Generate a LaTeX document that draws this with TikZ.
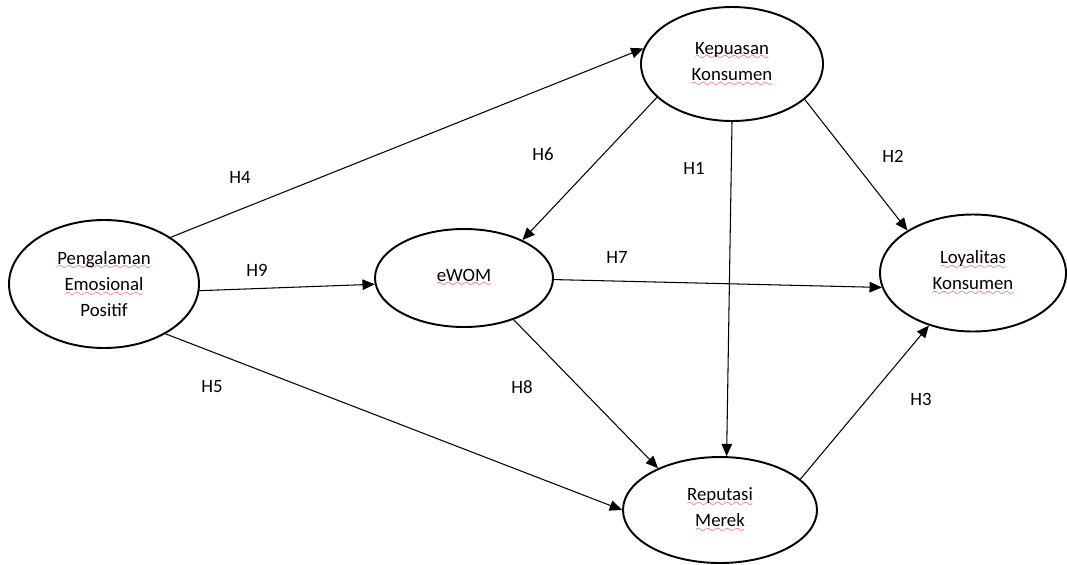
\documentclass[tikz,border=0pt]{standalone}
\usepackage{fontspec}
\setmainfont{Carlito}
\usepackage{tikz}
\usetikzlibrary{shapes.geometric,arrows.meta}
\definecolor{spellred}{RGB}{232,62,62}
\font\wavefont=lasy6
\newcommand{\spellwave}[1]{\setbox0\hbox{#1}\leavevmode\rlap{\lower3.2pt\hbox to\wd0{\color{spellred}\xleaders\hbox{\wavefont\char58}\hfil}}\box0}

\begin{document}
\begin{tikzpicture}[
    font=\fontsize{10.7pt}{15pt}\selectfont,
    construct/.style={ellipse,draw,line width=1.1pt,align=center,inner sep=2pt}]
\useasboundingbox (0,0) rectangle (21.34,-11.28);

\begin{scope}[every node/.style={construct}]
    \node[minimum width=3.8cm,minimum height=2.56cm] (P) at (2.08,-5.68) {\spellwave{Pengalaman}\\\spellwave{Emosional}\\Positif};
    \node[minimum width=3.64cm,minimum height=2.28cm] (K) at (14.64,-1.28) {\spellwave{Kepuasan}\\\spellwave{Konsumen}};
    \node[minimum width=3.56cm,minimum height=1.96cm] (E) at (9.28,-5.56) {\spellwave{eWOM}};
    \node[minimum width=3.72cm,minimum height=2.34cm] (L) at (19.46,-5.46) {\spellwave{Loyalitas}\\\spellwave{Konsumen}};
    \node[minimum width=3.88cm,minimum height=2.12cm] (R) at (14.4,-10.2) {\spellwave{Reputasi}\\\spellwave{Merek}};
\end{scope}

\begin{scope}[every edge/.style={draw=black,line width=0.6pt,-{Triangle[length=7pt,width=6pt]}}]
    \path (P.35) edge (K.170);
    \path (P.-4) edge (E.184);
    \path (P.-39) edge (R.180);
    \path (K.204) edge (E.33);
    \path (K.270) edge (R.83);
    \path (K.334) edge (L.147);
    \path (E.-1) edge (L.189);
    \path (E.-40) edge (R.146);
    \path (R.21) edge (L.230);
\end{scope}

\begin{scope}[every node/.style={inner sep=1pt}]
    \node (h4) at (4.8,-3.54) {H4};
    \node (h9) at (5.14,-5.4) {H9};
    \node (h5) at (4.24,-7.74) {H5};
    \node (h6) at (10.86,-3.08) {H6};
    \node (h1) at (13.88,-3.36) {H1};
    \node (h2) at (17.86,-3.12) {H2};
    \node (h7) at (12.34,-5.14) {H7};
    \node (h8) at (10.44,-7.74) {H8};
    \node (h3) at (18.42,-7.98) {H3};
\end{scope}
\end{tikzpicture}
\end{document}
